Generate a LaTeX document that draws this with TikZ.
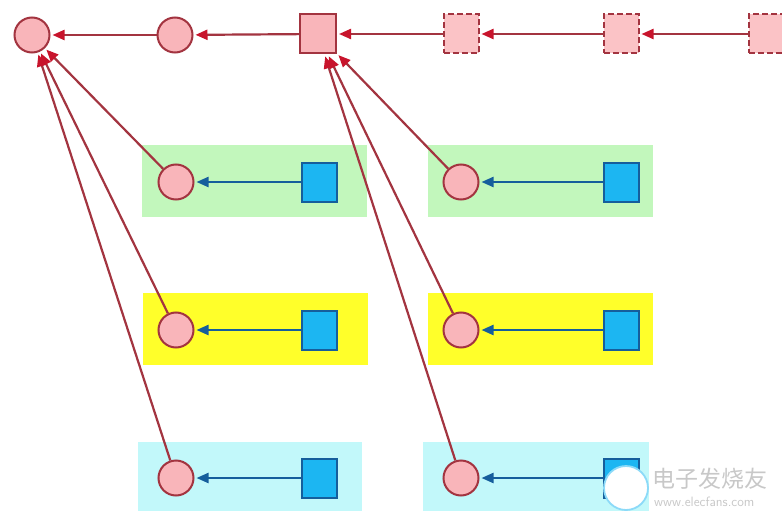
\documentclass[tikz,border=0pt]{standalone}
\usepackage{fontspec}
\newfontfamily\cjk{Noto Sans CJK SC}
\usetikzlibrary{arrows.meta}
\definecolor{pinkfill}{HTML}{F9B5BA}
\definecolor{pinkdash}{HTML}{FBC3C6}
\definecolor{redline}{HTML}{A33440}
\definecolor{redtip}{HTML}{C8142C}
\definecolor{bluefill}{HTML}{1CB6F2}
\definecolor{blueline}{HTML}{155E9C}
\definecolor{greenbg}{HTML}{C2F7BC}
\definecolor{yellowbg}{HTML}{FFFF2A}
\definecolor{cyanbg}{HTML}{C2F8FA}
\definecolor{wmgray}{HTML}{C8C8C8}
\tikzset{
  pcirc/.style={circle,draw=redline,fill=pinkfill,line width=2pt,minimum size=35pt,inner sep=0pt},
  psq/.style={rectangle,draw=redline,fill=pinkfill,line width=2pt,minimum width=36pt,minimum height=39pt,inner sep=0pt},
  pdash/.style={rectangle,draw=redline,fill=pinkdash,line width=2pt,dash pattern=on 6pt off 3pt,minimum width=35pt,minimum height=39pt,inner sep=0pt},
  bsq/.style={rectangle,draw=blueline,fill=bluefill,line width=2pt,minimum width=35pt,minimum height=39pt,inner sep=0pt},
  rarr/.style={draw=redline,line width=2.2pt,shorten >=2pt,-{Triangle[length=12pt,width=10pt,color=redtip]}},
  barr/.style={draw=blueline,line width=2.2pt,shorten >=2pt,-{Triangle[length=12pt,width=10pt]}},
  bg/.style={rectangle,inner sep=0pt,minimum width=225pt,minimum height=72pt}
}
\begin{document}
\begin{tikzpicture}[x=1pt,y=-1pt]
\useasboundingbox (0,0) rectangle (782,511);
\fill[white] (0,0) rectangle (782,511);

% coloured bands behind the lower pairs
\node[bg,fill=greenbg]  (g1) at (254,181) {};
\node[bg,fill=greenbg]  (g2) at (540,181) {};
\node[bg,fill=yellowbg] (y1) at (255,329) {};
\node[bg,fill=yellowbg] (y2) at (540,329) {};
\fill[cyanbg] (138,442) rectangle (362,511);
\fill[cyanbg] (423,442) rectangle (649,511);

% top chain
\node[pcirc] (t1) at (32,35) {};
\node[pcirc] (t2) at (175,35) {};
\node[psq]   (t3) at (318,34) {};
\node[pdash] (t4) at (461,34) {};
\node[pdash] (t5) at (621,34) {};
\node[pdash] (t6) at (766,34) {};

\draw[rarr] (t2) -- (t1);
\draw[rarr] (t3) -- (t2);
\draw[rarr] (t4) -- (t3);
\draw[rarr] (t5) -- (t4);
\draw[rarr] (t6) -- (t5);

% lower rows: circle fed by a blue square
\foreach \r/\yy in {1/182,2/330,3/478}{
  \node[pcirc] (a\r) at (176,\yy) {};
  \node[bsq]   (s\r) at (319,\yy) {};
  \node[pcirc] (b\r) at (461,\yy) {};
  \node[bsq]   (u\r) at (621,\yy) {};
  \draw[barr] (s\r) -- (a\r);
  \draw[barr] (u\r) -- (b\r);
  \draw[rarr] (a\r) -- (t1);
  \draw[rarr] (b\r) -- (t3);
}

% watermark
\node[circle,draw=cyan!45,fill=white,line width=1.8pt,minimum size=44pt,inner sep=0pt] (logo) at (626,488) {};
\node[text=wmgray,font=\cjk\fontsize{23}{23}\selectfont,anchor=west,inner sep=0pt] (wm1) at (652,479) {电子发烧友};
\node[text=wmgray,font=\sffamily\fontsize{13.5}{13.5}\selectfont,anchor=west,inner sep=0pt] (wm2) at (654,502) {www.elecfans.com};
\end{tikzpicture}
\end{document}
